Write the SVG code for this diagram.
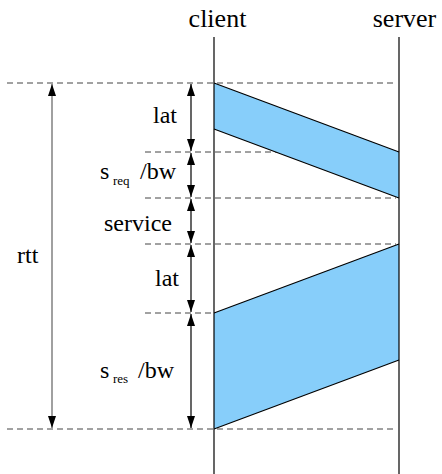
<svg xmlns="http://www.w3.org/2000/svg" width="442" height="474" viewBox="0 0 442 474">
<style>
.lbl{font-family:'Times New Roman',Tinos,'Nimbus Roman','DejaVu Serif',serif;font-size:24px;fill:#000}
.sub{font-family:'Times New Roman',Tinos,'Nimbus Roman','DejaVu Serif',serif;font-size:13px;fill:#000}
.head{font-family:'Times New Roman',Tinos,'Nimbus Roman','DejaVu Serif',serif;font-size:26px;fill:#000}
.dash{stroke:#444;stroke-width:1;stroke-dasharray:6 4;fill:none}
.life{stroke:#000;stroke-width:1.2;fill:none}
.msg{fill:#87cefa;stroke:none}
.edge{stroke:#000;stroke-width:1.2;fill:none}
.dim{stroke:#000;stroke-width:1.2;fill:none}
.dimg{stroke:#808080;stroke-width:1.5;fill:none}
</style>
<defs>
<marker id="ah" markerWidth="12" markerHeight="8" refX="12" refY="4" orient="auto-start-reverse" markerUnits="userSpaceOnUse">
<path d="M0,0 L12,4 L0,8 Z" fill="#000"/>
</marker>
</defs>
<g id="guides">
<line class="dash" x1="7" y1="83" x2="396" y2="83"/>
<line class="dash" x1="145" y1="152" x2="396" y2="152"/>
<line class="dash" x1="145" y1="198" x2="396" y2="198"/>
<line class="dash" x1="145" y1="244" x2="396" y2="244"/>
<line class="dash" x1="145" y1="313" x2="396" y2="313"/>
<line class="dash" x1="7" y1="429" x2="396" y2="429"/>
</g>
<g id="request">
<polygon class="msg" points="214,83 399,152 399,198 214,129"/>
<line class="edge" x1="214" y1="83" x2="399" y2="152"/>
<line class="edge" x1="214" y1="129" x2="399" y2="198"/>
</g>
<g id="response">
<polygon class="msg" points="214,313 399,244 399,360 214,429"/>
<line class="edge" x1="214" y1="313" x2="399" y2="244"/>
<line class="edge" x1="214" y1="429" x2="399" y2="360"/>
</g>
<g id="client">
<text class="head" x="217.5" y="27" text-anchor="middle">client</text>
<line class="life" x1="214" y1="37" x2="214" y2="474"/>
</g>
<g id="server">
<text class="head" x="404.5" y="27" text-anchor="middle">server</text>
<line class="life" x1="399" y1="37" x2="399" y2="474"/>
</g>
<g id="connectors">
<line class="dimg" x1="52" y1="84" x2="52" y2="428" marker-start="url(#ah)" marker-end="url(#ah)"/>
<line class="dim" x1="191" y1="84" x2="191" y2="151" marker-start="url(#ah)" marker-end="url(#ah)"/>
<line class="dim" x1="191" y1="153" x2="191" y2="197" marker-start="url(#ah)" marker-end="url(#ah)"/>
<line class="dim" x1="191" y1="199" x2="191" y2="243" marker-start="url(#ah)" marker-end="url(#ah)"/>
<line class="dim" x1="191" y1="245" x2="191" y2="312" marker-start="url(#ah)" marker-end="url(#ah)"/>
<line class="dim" x1="191" y1="314" x2="191" y2="428" marker-start="url(#ah)" marker-end="url(#ah)"/>
</g>
<g id="labels">
<text class="lbl" x="153" y="123">lat</text>
<text class="lbl" x="100" y="179">s</text>
<text class="sub" x="113" y="185">req</text>
<text class="lbl" x="140" y="179">/bw</text>
<text class="lbl" x="104" y="231">service</text>
<text class="lbl" x="17" y="263">rtt</text>
<text class="lbl" x="155" y="286">lat</text>
<text class="lbl" x="100" y="378">s</text>
<text class="sub" x="113" y="383">res</text>
<text class="lbl" x="138" y="378">/bw</text>
</g>
</svg>
